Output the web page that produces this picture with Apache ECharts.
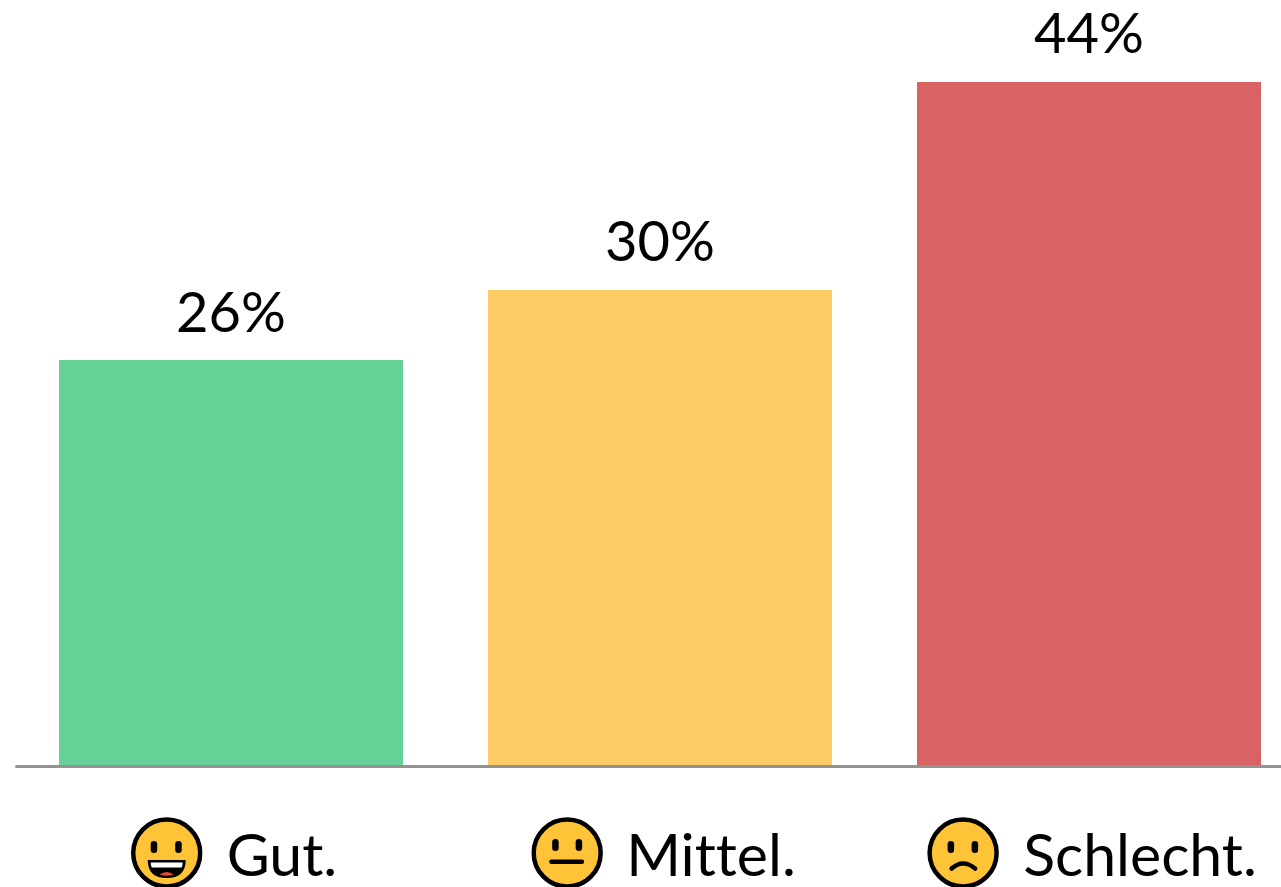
<!DOCTYPE html>
<html><head><meta charset="utf-8">
<style>html,body{margin:0;padding:0;background:#fff;overflow:hidden}#c{width:1281px;height:887px}#c text{font-variant-ligatures:none}</style>
<script src="https://cdn.jsdelivr.net/npm/echarts@6/dist/echarts.min.js"></script>
</head><body><div id="c"></div>
<script>
const categories = ['Gut.', 'Mittel.', 'Schlecht.'];
const values = [25.97, 30.45, 43.76];
const valueLabels = ['26%', '30%', '44%'];
const barColors = ['#66D197', '#FECB66', '#D96262'];
const face = (inner) => 'data:image/svg+xml;charset=utf-8,' + encodeURIComponent(
 '<svg xmlns="http://www.w3.org/2000/svg" width="72" height="72" viewBox="0 0 72 72">' +
 '<circle cx="36" cy="36" r="33.5" fill="#FFC337" stroke="#000" stroke-width="4.5"/>' + inner + '</svg>');
const eyes = (a, b, y) => `<rect x="${a}" y="${y}" width="6.5" height="12" rx="3.2"/><rect x="${b}" y="${y}" width="6.5" height="12" rx="3.2"/>`;
const iconHappy = face(eyes(20, 44.5, 24) +
 '<path d="M17 43 H55 Q55 61 36 61 Q17 61 17 43Z" fill="#000"/><path d="M20 45.5 H52 Q52 48 51 50.5 H21 Q20 48 20 45.5Z" fill="#fff"/><path d="M29 57.5 Q36 52.5 43 57.5 Q36 60 29 57.5Z" fill="#E8452C"/>');
const iconNeutral = face(eyes(21, 44.5, 22) + '<rect x="18" y="42.5" width="35" height="4.5" rx="2.2"/>');
const iconSad = face(eyes(20.5, 44.5, 24) + '<path d="M24.5 51.5 Q36 41.5 48 51.5" fill="none" stroke="#000" stroke-width="4.5" stroke-linecap="round"/>');
const icons = {a: iconHappy, b: iconNeutral, c: iconSad};
const iconKeys = ['a', 'b', 'c'];
const font = 'Lato, Carlito, "Noto Sans", sans-serif';
const rich = {t: {fontFamily: font, fontSize: 59, color: '#000', padding: [0, 0, 0, 24], verticalAlign: 'middle', lineHeight: 72}};
for (const k of iconKeys) rich[k] = {width: 72, height: 72, verticalAlign: 'middle', backgroundColor: {image: icons[k]}};
const chart = echarts.init(document.getElementById('c'), null, {renderer: 'svg'});
chart.setOption({
 animation: false,
 backgroundColor: '#fff',
 grid: {left: 16.5, top: 0, width: 1287, height: 766, containLabel: false, outerBoundsMode: 'none'},
 xAxis: {type: 'category', data: categories, z: 5,
  axisLine: {show: true, lineStyle: {color: '#939393', width: 3}},
  axisTick: {show: false},
  axisLabel: {margin: 51, interval: 0, rich, hideOverlap: false, padding: [0, 0, 0, 6], formatter: (v, i) => `{${iconKeys[i]}|}{t|${v}}`}},
 yAxis: {type: 'value', min: 0, max: 49, show: false, splitLine: {show: false}},
 series: [{type: 'bar', barWidth: 344,
  data: values.map((v, i) => ({value: v, itemStyle: {color: barColors[i]}})),
  label: {show: true, position: 'top', distance: 28, lineHeight: 44, fontFamily: font, fontSize: 56, color: '#000',
   formatter: p => valueLabels[p.dataIndex]}}]
});
</script></body></html>
